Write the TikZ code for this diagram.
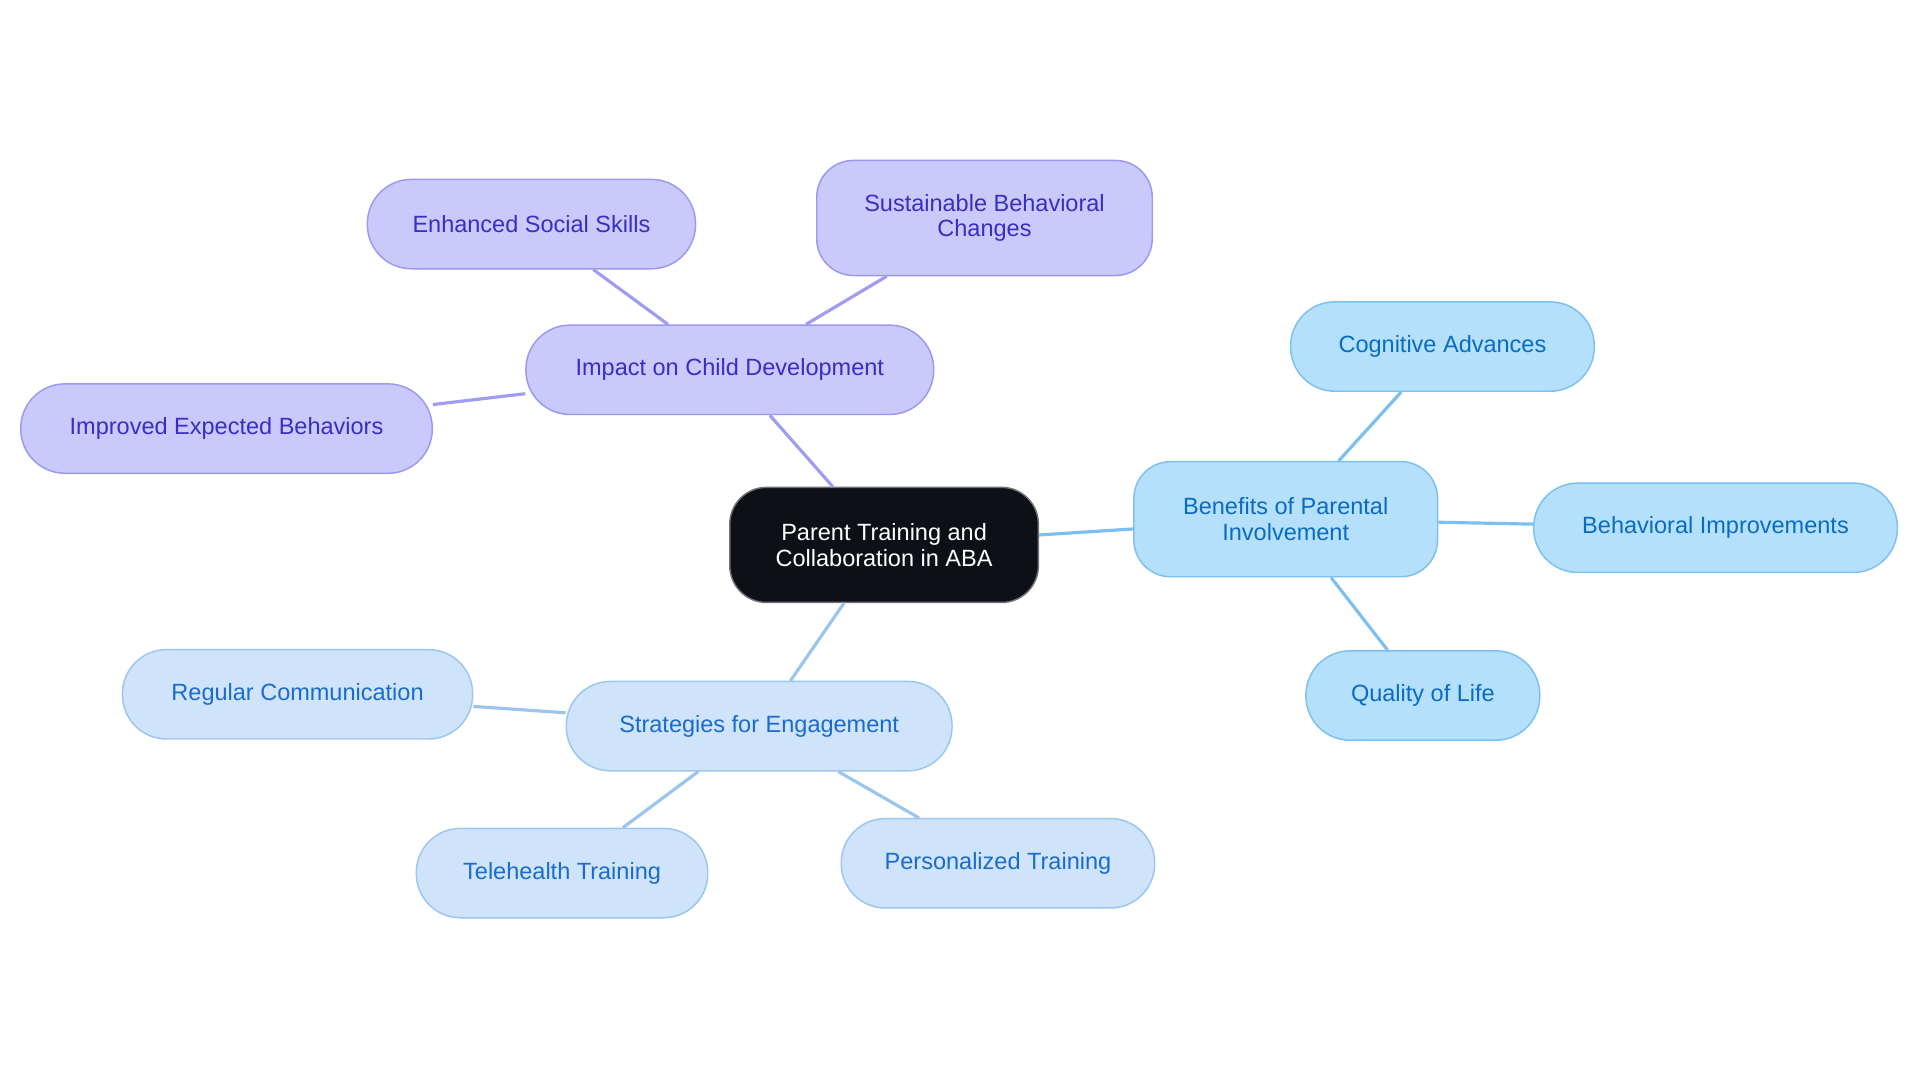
\documentclass[tikz,border=0pt]{standalone}
\usepackage{fontspec}
\setmainfont{Liberation Sans}
\begin{document}
\begin{tikzpicture}[x=0.5pt,y=-0.5pt,
  box/.style={rectangle,rounded corners=18pt,minimum height=36.5pt,align=center,font=\fontsize{9.6}{10.5}\selectfont,inner sep=0pt,line width=0.6pt},
  tall/.style={minimum height=47pt,rounded corners=15pt},
  pur/.style={box,fill=cPf,draw=cPd,text=cPt},
  blu/.style={box,fill=cBf,draw=cBd,text=cBt},
  lbl/.style={box,fill=cLf,draw=cLd,text=cLt},
  ep/.style={draw=cPe,line width=1.3pt},
  eb/.style={draw=cBe,line width=1.3pt},
  el/.style={draw=cLe,line width=1.3pt}]
\definecolor{cPf}{HTML}{C9C9FC}\definecolor{cPd}{HTML}{9C98F0}\definecolor{cPt}{HTML}{3A2EC0}\definecolor{cPe}{HTML}{A09CF2}
\definecolor{cBf}{HTML}{B4E0FC}\definecolor{cBd}{HTML}{7CC0F0}\definecolor{cBt}{HTML}{0A6CC0}\definecolor{cBe}{HTML}{7CC0F0}
\definecolor{cLf}{HTML}{CFE3FB}\definecolor{cLd}{HTML}{9CC5F0}\definecolor{cLt}{HTML}{1A6CCC}\definecolor{cLe}{HTML}{9CC5EC}
\definecolor{cC}{HTML}{0D1117}
\useasboundingbox[fill=white] (0,0) rectangle (1568,884.4);
\node[box,tall,fill=cC,draw=cC!60,text=white,minimum width=126pt] (c) at (722,445) {Parent Training and\\Collaboration in ABA};
\node[pur,minimum width=166.5pt] (imp) at (596,302) {Impact on Child Development};
\node[pur,minimum width=134pt] (enh) at (434,183) {Enhanced Social Skills};
\node[pur,tall,minimum width=137pt] (sus) at (804,178) {Sustainable Behavioral\\Changes};
\node[pur,minimum width=168pt] (imb) at (185,350) {Improved Expected Behaviors};
\node[blu,tall,minimum width=124pt] (ben) at (1050,424) {Benefits of Parental\\Involvement};
\node[blu,minimum width=124pt] (cog) at (1178,283) {Cognitive Advances};
\node[blu,minimum width=148.5pt] (beh) at (1401,431) {Behavioral Improvements};
\node[blu,minimum width=95.5pt] (qua) at (1162,568) {Quality of Life};
\node[lbl,minimum width=157.5pt] (str) at (620,593) {Strategies for Engagement};
\node[lbl,minimum width=143pt] (reg) at (243,567) {Regular Communication};
\node[lbl,minimum width=119pt] (tel) at (459,713) {Telehealth Training};
\node[lbl,minimum width=128pt] (per) at (815,705) {Personalized Training};
\draw[ep] (c) -- (imp); \draw[ep] (imp) -- (enh); \draw[ep] (imp) -- (sus); \draw[ep] (imp) -- (imb);
\draw[eb] (c) -- (ben); \draw[eb] (ben) -- (cog); \draw[eb] (ben) -- (beh); \draw[eb] (ben) -- (qua);
\draw[el] (c) -- (str); \draw[el] (str) -- (reg); \draw[el] (str) -- (tel); \draw[el] (str) -- (per);
\end{tikzpicture}
\end{document}
